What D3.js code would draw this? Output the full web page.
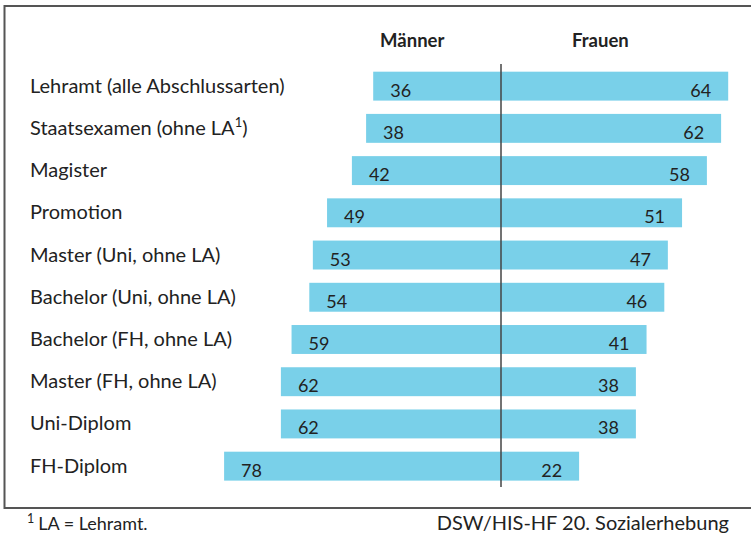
<!DOCTYPE html>
<html>
<head>
<meta charset="utf-8">
<script src="https://cdn.jsdelivr.net/npm/d3@7"></script>
<style>
  body { margin: 0; background: #fff; }
  svg { display: block; font-family: Lato, "Noto Sans", sans-serif; }
</style>
</head>
<body>
<svg width="751" height="536"></svg>
<script>
const categories = [
  "Lehramt (alle Abschlussarten)",
  "Staatsexamen (ohne LA\u00b9)",
  "Magister",
  "Promotion",
  "Master (Uni, ohne LA)",
  "Bachelor (Uni, ohne LA)",
  "Bachelor (FH, ohne LA)",
  "Master (FH, ohne LA)",
  "Uni-Diplom",
  "FH-Diplom"
]
const maenner = [36, 38, 42, 49, 53, 54, 59, 62, 62, 78]
const frauen = [64, 62, 58, 51, 47, 46, 41, 38, 38, 22]
const seriesNames = ["Männer", "Frauen"]
const footnote = "LA = Lehramt."
const source = "DSW/HIS-HF 20. Sozialerhebung"

const width = 751,
  height = 536,
  center = 501,
  pxPerUnit = 3.55,
  barColor = '#79d0e9',
  lineColor = '#444',
  textColor = '#222'

const svg = d3.select("svg")

const x = d3.scaleLinear()
  .domain([-100, 100])
  .range([center - 100 * pxPerUnit, center + 100 * pxPerUnit])

const y = d3.scaleBand()
  .domain(categories)
  .range([64.5, 487.8])
  .paddingInner(0.315)
  .paddingOuter(0.17)

const data = categories.map((c, i) => ({cat: c, m: maenner[i], f: frauen[i]}))

// frame
svg.append("path")
  .attr("d", `M${width},6 H4.5 V508 H${width}`)
  .attr("fill", "none")
  .attr("stroke", "#555")
  .attr("stroke-width", 2)

// headers
svg.selectAll(".header")
  .data(seriesNames)
  .enter().append("text")
  .attr("class", "header")
  .attr("x", (d, i) => i === 0 ? x(-25) : x(28))
  .attr("y", 47)
  .attr("text-anchor", "middle")
  .attr("font-weight", "bold")
  .attr("font-size", 18.5)
  .attr("fill", textColor)
  .text(d => d)

const rows = svg.selectAll(".row")
  .data(data)
  .enter().append("g")
  .attr("class", "row")
  .attr("transform", d => `translate(0,${y(d.cat)})`)

rows.append("rect")
  .attr("x", d => x(-d.m))
  .attr("width", d => x(0) - x(-d.m))
  .attr("height", y.bandwidth())
  .attr("fill", barColor)

rows.append("rect")
  .attr("x", x(0))
  .attr("width", d => x(d.f) - x(0))
  .attr("height", y.bandwidth())
  .attr("fill", barColor)

rows.append("text")
  .attr("x", d => x(-d.m) + 17)
  .attr("y", y.bandwidth() / 2 + 10.5)
  .attr("font-size", 18)
  .attr("fill", textColor)
  .text(d => d.m)

rows.append("text")
  .attr("x", d => x(d.f) - 17)
  .attr("y", y.bandwidth() / 2 + 10.5)
  .attr("text-anchor", "end")
  .attr("font-size", 18)
  .attr("fill", textColor)
  .text(d => d.f)

// category labels, superscript for footnote mark
rows.append("text")
  .attr("x", 30)
  .attr("y", y.bandwidth() / 2 + 6.5)
  .attr("font-size", 20)
  .attr("fill", textColor)
  .each(function (d) {
    const t = d3.select(this)
    const parts = d.cat.split("\u00b9")
    t.append("tspan").text(parts[0])
    if (parts.length > 1) {
      t.append("tspan").attr("font-size", 13).attr("dy", -8).text("1")
      t.append("tspan").attr("dy", 8).text(parts[1])
    }
  })

// center line
svg.append("line")
  .attr("x1", x(0)).attr("x2", x(0))
  .attr("y1", 64).attr("y2", 487)
  .attr("stroke", lineColor)
  .attr("stroke-width", 1.5)

// footer
const fn = svg.append("text")
  .attr("x", 27)
  .attr("y", 530)
  .attr("font-size", 18)
  .attr("fill", textColor)
fn.append("tspan").attr("font-size", 12.5).attr("dy", -7).text("1")
fn.append("tspan").attr("dy", 7).attr("dx", 4).text(footnote)

svg.append("text")
  .attr("x", 729)
  .attr("y", 530)
  .attr("text-anchor", "end")
  .attr("font-size", 20)
  .attr("fill", textColor)
  .text(source)
</script>
</body>
</html>
